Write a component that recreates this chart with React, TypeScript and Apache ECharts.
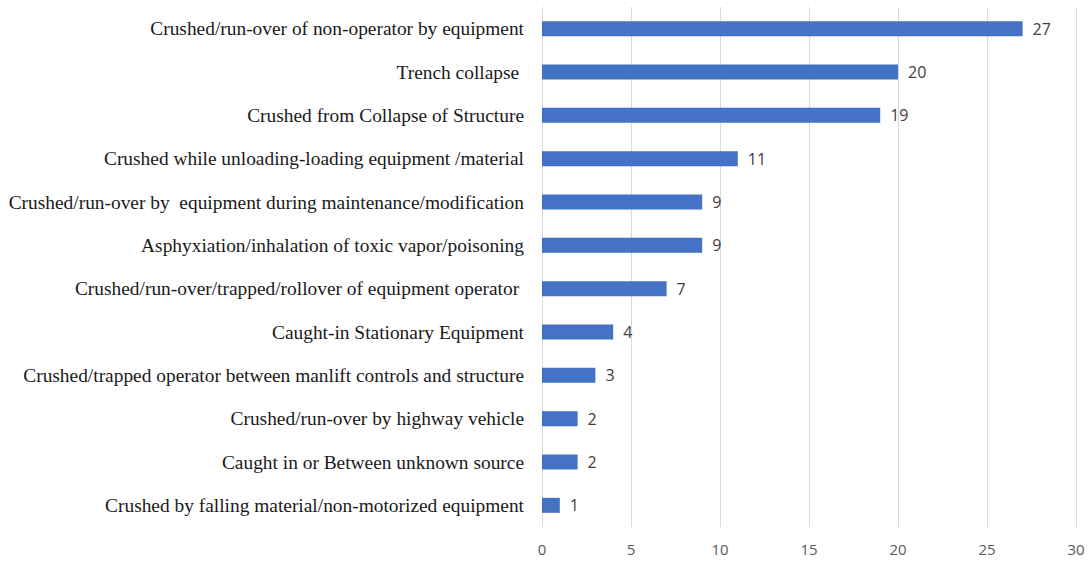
import React, { useEffect, useRef } from "react";
import * as echarts from "echarts";

const categories = [
  "Crushed/run-over of non-operator by equipment",
  "Trench collapse ",
  "Crushed from Collapse of Structure",
  "Crushed while unloading-loading equipment /material",
  "Crushed/run-over by  equipment during maintenance/modification",
  "Asphyxiation/inhalation of toxic vapor/poisoning",
  "Crushed/run-over/trapped/rollover of equipment operator ",
  "Caught-in Stationary Equipment",
  "Crushed/trapped operator between manlift controls and structure",
  "Crushed/run-over by highway vehicle",
  "Caught in or Between unknown source",
  "Crushed by falling material/non-motorized equipment",
];
const values = [27, 20, 19, 11, 9, 9, 7, 4, 3, 2, 2, 1];
const xMin = 0;
const xMax = 30;
const xStep = 5;

export default function App() {
  const ref = useRef<HTMLDivElement>(null);
  useEffect(() => {
    if (!ref.current) return;
    const chart = echarts.init(ref.current, null, { renderer: "svg" });
    chart.setOption({
      animation: false,
      backgroundColor: "#ffffff",
      grid: { left: 542, right: 16, top: 7, bottom: 36, containLabel: false },
      xAxis: {
        type: "value",
        min: xMin,
        max: xMax,
        interval: xStep,
        axisLine: { show: false },
        axisTick: { show: false },
        splitLine: { show: true, lineStyle: { color: "#d9d9d9", width: 1 } },
        axisLabel: {
          color: "#595959",
          fontFamily: "Open Sans, sans-serif",
          fontSize: 15,
          margin: 14,
        },
      },
      yAxis: {
        type: "category",
        inverse: true,
        data: categories,
        axisLine: { show: false },
        axisTick: { show: false },
        axisLabel: {
          color: "#1a1a1a",
          fontFamily: "Liberation Serif, serif",
          fontSize: 19.4,
          margin: 18,
        },
      },
      series: [
        {
          type: "bar",
          data: values,
          barWidth: 15,
          itemStyle: { color: "#4472c4" },
          label: {
            show: true,
            position: "right",
            distance: 10,
            color: "#404040",
            fontFamily: "Open Sans, sans-serif",
            fontSize: 16,
          },
        },
      ],
    });
    return () => chart.dispose();
  }, []);
  return (
    <div
      ref={ref}
      style={{ width: 1092, height: 563, position: "absolute", left: 0, top: 0 }}
    />
  );
}
